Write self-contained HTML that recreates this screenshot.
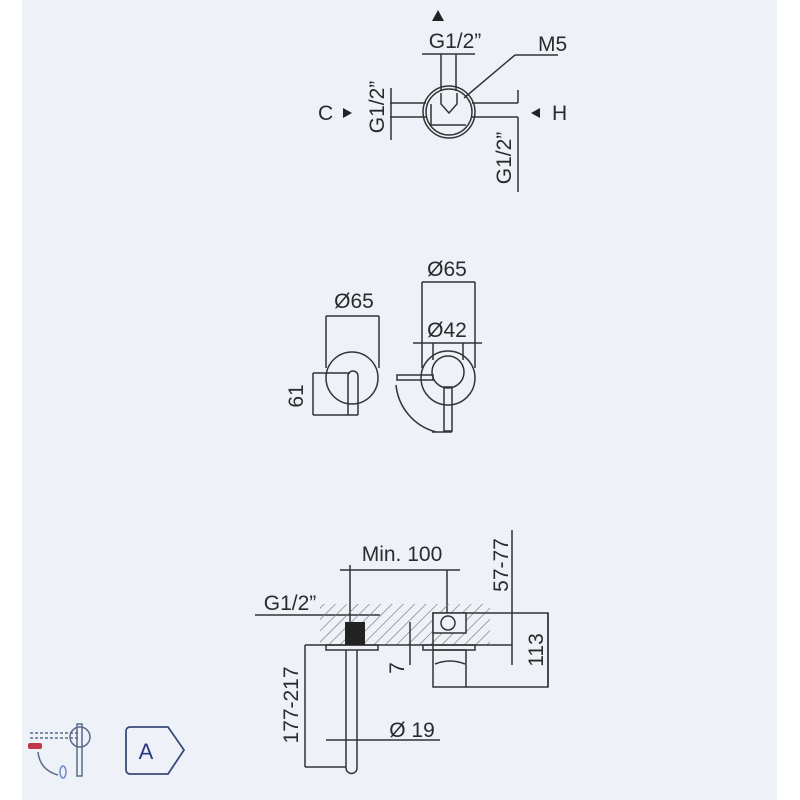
<!DOCTYPE html>
<html><head><meta charset="utf-8"><style>
html,body{margin:0;padding:0;background:#fff;}
svg{display:block;}
text{font-family:"Liberation Sans",sans-serif;fill:#2a2a2a;}
</style></head><body>
<svg width="800" height="800" viewBox="0 0 800 800" xmlns="http://www.w3.org/2000/svg">
<defs>
<pattern id="h" width="8" height="8" patternUnits="userSpaceOnUse" patternTransform="rotate(45)">
<line x1="0" y1="0" x2="0" y2="8" stroke="#777" stroke-width="1.3"/></pattern>
</defs>
<rect x="22" y="0" width="755" height="800" fill="#eef2f8"/>
<g stroke="#333" stroke-width="1.5" fill="none">
<!-- TOP VIEW -->
<line x1="422" y1="54" x2="475" y2="54"/>
<line x1="441" y1="54" x2="441" y2="91"/><line x1="456" y1="54" x2="456" y2="91"/>
<circle cx="449" cy="112" r="26"/><circle cx="449" cy="112" r="23"/>
<line x1="390" y1="103" x2="426" y2="103"/><line x1="390" y1="117" x2="426" y2="117"/>
<line x1="472" y1="103" x2="518" y2="103"/><line x1="472" y1="117" x2="518" y2="117"/>
<line x1="518" y1="90" x2="518" y2="103"/><line x1="518" y1="117" x2="518" y2="192"/>
<line x1="391" y1="88" x2="391" y2="140"/>
<polyline points="441,93 441,104 449,113 457,104 457,93"/>
<polyline points="431,104 431,125 466,125"/>
<line x1="515" y1="55" x2="558" y2="55"/><line x1="515" y1="55" x2="464" y2="98"/>
<!-- MIDDLE LEFT -->
<line x1="326" y1="316" x2="379" y2="316"/>
<line x1="326" y1="316" x2="326" y2="368"/><line x1="379" y1="316" x2="379" y2="368"/>
<circle cx="352" cy="378" r="26"/>
<path d="M348 415 V376 a5 5 0 0 1 10 0 V415"/>
<line x1="313" y1="373" x2="350" y2="373"/><line x1="313" y1="415" x2="358" y2="415"/>
<line x1="313" y1="373" x2="313" y2="415"/>
<!-- MIDDLE RIGHT -->
<line x1="422" y1="282" x2="475" y2="282"/>
<line x1="422" y1="282" x2="422" y2="368"/><line x1="475" y1="282" x2="475" y2="368"/>
<line x1="413" y1="343" x2="482" y2="343"/>
<line x1="433" y1="343" x2="433" y2="360"/><line x1="463" y1="343" x2="463" y2="360"/>
<circle cx="448" cy="378" r="27"/><circle cx="448" cy="372" r="16"/>
<rect x="444" y="387" width="8" height="44"/>
<rect x="397" y="375" width="36" height="5"/>
<path d="M396 385 A54 54 0 0 0 436 432"/>
<line x1="432" y1="432" x2="452" y2="432"/>
<!-- BOTTOM -->
<line x1="340" y1="570" x2="460" y2="570"/>
<line x1="350" y1="565" x2="350" y2="622"/><line x1="447" y1="570" x2="447" y2="615"/>
<line x1="255" y1="615" x2="380" y2="615"/>
</g>
<rect x="320" y="604" width="170" height="41" fill="url(#h)"/>
<g stroke="#333" stroke-width="1.5" fill="none">
<rect x="433" y="613" width="115" height="74" fill="none"/>
<line x1="305" y1="645" x2="512" y2="645"/>
<rect x="326" y="645" width="52" height="5"/><rect x="423" y="645" width="52" height="5"/>
<path d="M346 650 V768 a5.5 5.5 0 0 0 11 0 V650"/>
<line x1="305" y1="645" x2="305" y2="767"/><line x1="305" y1="767" x2="346" y2="767"/>
<line x1="326" y1="740" x2="440" y2="740"/>
<line x1="410" y1="622" x2="410" y2="665"/>
<line x1="512" y1="530" x2="512" y2="665"/>
<line x1="548" y1="613" x2="548" y2="687"/>
<rect x="433" y="613" width="33" height="20" fill="#eef2f8"/>
<circle cx="448" cy="623" r="7"/>
<line x1="433" y1="650" x2="466" y2="650"/><line x1="466" y1="650" x2="466" y2="687"/>
<path d="M435 664 Q450 658 465 664"/>
</g>
<rect x="345" y="622" width="20" height="23" fill="#222"/>
<g fill="#222">
<polygon points="432,21 444,21 438,10"/>
<polygon points="343,108 343,118 352,113"/>
<polygon points="540,108 540,118 531,113"/>
</g>
<g font-size="21">
<text x="455" y="48" text-anchor="middle">G1/2”</text>
<text x="538" y="51">M5</text>
<text x="318" y="120">C</text>
<text x="552" y="120">H</text>
<text transform="translate(384,107) rotate(-90)" text-anchor="middle">G1/2”</text>
<text transform="translate(511,158) rotate(-90)" text-anchor="middle">G1/2”</text>
<text x="354" y="308" text-anchor="middle">Ø65</text>
<text x="447" y="276" text-anchor="middle">Ø65</text>
<text x="447" y="337" text-anchor="middle">Ø42</text>
<text transform="translate(303,396) rotate(-90)" text-anchor="middle">61</text>
<text x="402" y="561" text-anchor="middle">Min. 100</text>
<text x="290" y="610" text-anchor="middle">G1/2”</text>
<text x="412" y="737" text-anchor="middle">Ø 19</text>
<text transform="translate(298,705) rotate(-90)" text-anchor="middle">177-217</text>
<text transform="translate(404,668) rotate(-90)" text-anchor="middle">7</text>
<text transform="translate(508,565) rotate(-90)" text-anchor="middle">57-77</text>
<text transform="translate(543,650) rotate(-90)" text-anchor="middle">113</text>
</g>
<!-- icons -->
<g fill="none" stroke="#5a6a8a" stroke-width="1.5">
<line x1="30" y1="733" x2="78" y2="733" stroke-dasharray="3,2"/>
<line x1="30" y1="738" x2="78" y2="738" stroke-dasharray="3,2"/>
<circle cx="80" cy="737" r="10"/>
<rect x="77" y="724" width="5" height="52"/>
<path d="M38 752 Q40 770 58 775"/>
<ellipse cx="63" cy="772" rx="3" ry="6" stroke="#6a8ac8"/>
</g>
<rect x="28" y="743" width="14" height="6" rx="2" fill="#c0394a"/>
<path d="M130 727 H168 L184 750 L168 774 H130 a4 4 0 0 1 -4 -4 V731 a4 4 0 0 1 4 -4Z" fill="none" stroke="#3a4a7a" stroke-width="1.8"/>
<text x="146" y="759" font-size="22" text-anchor="middle" style="fill:#2a3a80">A</text>
</svg>
</body></html>
